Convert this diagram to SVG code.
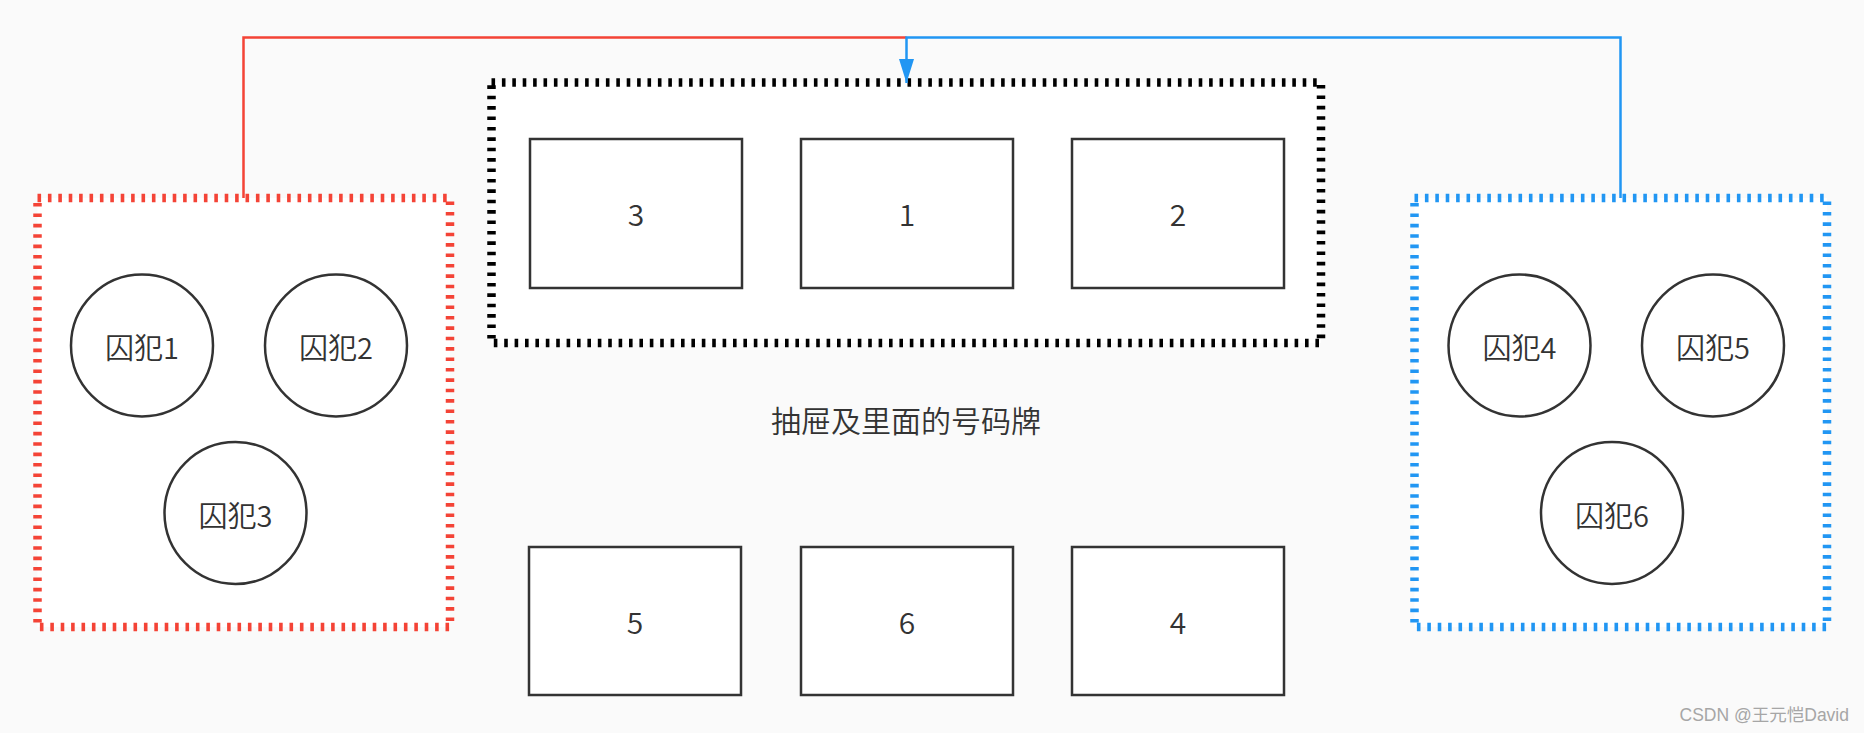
<svg xmlns="http://www.w3.org/2000/svg" width="1864" height="733" viewBox="0 0 1864 733">
<defs>
<style>
.bg{fill:#fafafa}
.group{fill:#ffffff;stroke-width:8.5;stroke-dasharray:3.6 6.8}
.red{stroke:#f44336}
.blue{stroke:#2196f3}
.black{stroke:#000000}
.box{fill:#ffffff;stroke:#333333;stroke-width:2.5}
.t{font-family:"Noto Sans CJK SC","Noto Sans",sans-serif;font-weight:350;fill:#333333;text-anchor:middle;dominant-baseline:central}
.num{font-size:30px}
.lbl{font-size:29px}
.conn{fill:none;stroke-width:2.5}
.wm{font-family:"Liberation Sans","Noto Sans CJK SC",sans-serif;font-size:17.5px;fill:#a6a6a6}
</style>
<marker id="arrowBlue" viewBox="0 0 24 15" refX="24" refY="7.5" markerWidth="24" markerHeight="15" markerUnits="userSpaceOnUse" orient="auto">
<path d="M0,0 L24,7.5 L0,15 Z" fill="#2196f3"/>
</marker>
</defs>
<rect class="bg" x="0" y="0" width="1864" height="733"/>

<g id="drawer">
<rect class="group black" x="491.5" y="82.5" width="829.5" height="260.5"/>
</g>
<g id="group-left">
<rect class="group red" x="37.5" y="198" width="412.5" height="429"/>
</g>
<g id="group-right">
<rect class="group blue" x="1414.5" y="198" width="412.5" height="429"/>
</g>

<g id="connectors">
<path class="conn red" d="M243.5,198 V37.5 H906.5"/>
<path class="conn blue" d="M1620.5,198 V37.5 H906.5 V83" marker-end="url(#arrowBlue)"/>
</g>

<g id="card-3"><rect class="box" x="530" y="139" width="212" height="149"/><text class="t num" x="636" y="213">3</text></g>
<g id="card-1"><rect class="box" x="801" y="139" width="212" height="149"/><text class="t num" x="907" y="213">1</text></g>
<g id="card-2"><rect class="box" x="1072" y="139" width="212" height="149"/><text class="t num" x="1178" y="213">2</text></g>

<g id="label-drawer"><text class="t num" x="906" y="419">抽屉及里面的号码牌</text></g>

<g id="card-5"><rect class="box" x="529" y="547" width="212" height="148"/><text class="t num" x="635" y="621">5</text></g>
<g id="card-6"><rect class="box" x="801" y="547" width="212" height="148"/><text class="t num" x="907" y="621">6</text></g>
<g id="card-4"><rect class="box" x="1072" y="547" width="212" height="148"/><text class="t num" x="1178" y="621">4</text></g>

<g id="prisoner-1"><circle class="box" cx="142" cy="345.5" r="71"/><text class="t lbl" x="142" y="346">囚犯1</text></g>
<g id="prisoner-2"><circle class="box" cx="336" cy="345.5" r="71"/><text class="t lbl" x="336" y="346">囚犯2</text></g>
<g id="prisoner-3"><circle class="box" cx="235.5" cy="513" r="71"/><text class="t lbl" x="235.5" y="513.5">囚犯3</text></g>
<g id="prisoner-4"><circle class="box" cx="1519.5" cy="345.5" r="71"/><text class="t lbl" x="1519.5" y="346">囚犯4</text></g>
<g id="prisoner-5"><circle class="box" cx="1713" cy="345.5" r="71"/><text class="t lbl" x="1713" y="346">囚犯5</text></g>
<g id="prisoner-6"><circle class="box" cx="1612" cy="513" r="71"/><text class="t lbl" x="1612" y="513.5">囚犯6</text></g>

<g id="watermark"><text class="wm" x="1849" y="715" text-anchor="end" dominant-baseline="central">CSDN @王元恺David</text></g>
</svg>
